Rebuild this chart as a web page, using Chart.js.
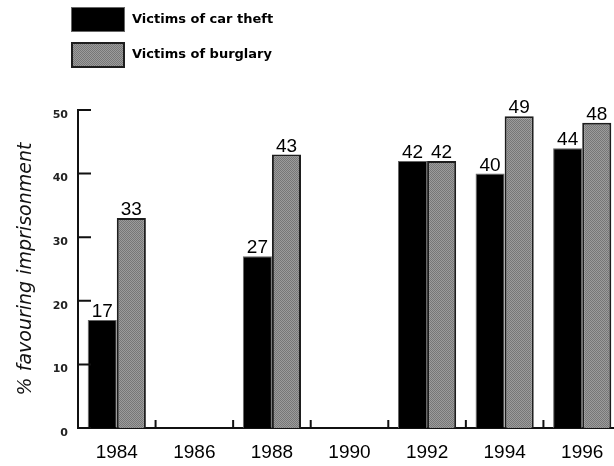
<!DOCTYPE html>
<html>
<head>
<meta charset="utf-8">
<script src="https://cdn.jsdelivr.net/npm/chart.js@4/dist/chart.umd.min.js"></script>
<style>
  html, body { margin: 0; padding: 0; background: #fff; overflow: hidden; }
  #wrap { position: relative; width: 621px; height: 466px; }
</style>
</head>
<body>
<div id="wrap"><canvas id="c"></canvas></div>
<script>
// Survey years and the share favouring imprisonment for each group of victims
const years = ['1984', '1986', '1988', '1990', '1992', '1994', '1996'];
const carTheft = [17, null, 27, null, 42, 40, 44];
const burglary = [33, null, 43, null, 42, 49, 48];
const seriesNames = ['Victims of car theft', 'Victims of burglary'];
const yTickValues = [0, 10, 20, 30, 40, 50];

// Dithered grey fill for the burglary bars
function ditherPattern() {
  const p = document.createElement('canvas');
  p.width = 2; p.height = 2;
  const g = p.getContext('2d');
  g.fillStyle = '#9c9c9c'; g.fillRect(0, 0, 2, 2);
  g.fillStyle = '#777777'; g.fillRect(0, 0, 1, 1); g.fillRect(1, 1, 1, 1);
  return g.createPattern(p, 'repeat');
}
const ctx = document.getElementById('c').getContext('2d');
const greyFill = ditherPattern();

// Short inward tick marks on both axes
const inwardTicks = {
  id: 'inwardTicks',
  afterDatasetsDraw(chart) {
    const { ctx, chartArea, scales: { x, y } } = chart;
    ctx.save();
    ctx.strokeStyle = '#111';
    ctx.lineWidth = 2;
    ctx.beginPath();
    yTickValues.forEach(v => {
      const py = y.getPixelForValue(v);
      ctx.moveTo(chartArea.left, py);
      ctx.lineTo(chartArea.left + 13, py);
    });
    for (let i = 0; i < years.length - 1; i++) {
      const px = (x.getPixelForValue(i) + x.getPixelForValue(i + 1)) / 2;
      ctx.moveTo(px, chartArea.bottom);
      ctx.lineTo(px, chartArea.bottom - 8);
    }
    ctx.stroke();
    ctx.restore();
  }
};

// Value written above every bar
const barValues = {
  id: 'barValues',
  afterDatasetsDraw(chart) {
    const { ctx } = chart;
    ctx.save();
    ctx.font = '19px "Liberation Sans", Arial, sans-serif';
    ctx.fillStyle = '#000';
    ctx.textAlign = 'center';
    ctx.textBaseline = 'alphabetic';
    chart.data.datasets.forEach((ds, di) => {
      chart.getDatasetMeta(di).data.forEach((bar, i) => {
        const v = ds.data[i];
        if (v === null || v === undefined) return;
        ctx.fillText(String(v), bar.x, bar.y - 3);
      });
    });
    ctx.restore();
  }
};

// Stacked legend in the top-left corner
const stackedLegend = {
  id: 'stackedLegend',
  afterDraw(chart) {
    const { ctx } = chart;
    const rows = [{ top: 7, h: 25 }, { top: 42, h: 26 }];
    ctx.save();
    chart.data.datasets.forEach((ds, i) => {
      const r = rows[i];
      ctx.fillStyle = ds.backgroundColor;
      ctx.fillRect(71, r.top, 54, r.h);
      ctx.strokeStyle = ds.borderColor;
      ctx.lineWidth = ds.borderWidth;
      ctx.strokeRect(71 + ds.borderWidth / 2, r.top + ds.borderWidth / 2, 54 - ds.borderWidth, r.h - ds.borderWidth);
      ctx.fillStyle = '#000';
      ctx.font = 'bold 13px "DejaVu Sans", sans-serif';
      ctx.textBaseline = 'middle';
      ctx.textAlign = 'left';
      ctx.fillText(ds.label, 132, r.top + r.h / 2);
    });
    ctx.restore();
  }
};

new Chart(ctx, {
  type: 'bar',
  data: {
    labels: years,
    datasets: [
      {
        label: seriesNames[0],
        data: carTheft,
        backgroundColor: '#000',
        borderColor: '#666',
        borderWidth: 1,
        barPercentage: 1.0,
        categoryPercentage: 0.75
      },
      {
        label: seriesNames[1],
        data: burglary,
        backgroundColor: greyFill,
        borderColor: '#1e1e1e',
        borderWidth: 2,
        barPercentage: 1.0,
        categoryPercentage: 0.75
      }
    ]
  },
  options: {
    responsive: true,
    maintainAspectRatio: false,
    animation: false,
    layout: { padding: { top: 110, left: 0, right: 0, bottom: 0 } },
    plugins: {
      legend: { display: false },
      tooltip: { enabled: false }
    },
    scales: {
      x: {
        grid: { display: false, drawTicks: false },
        border: { display: true, color: '#111', width: 2 },
        ticks: {
          color: '#000',
          padding: 13,
          maxRotation: 0,
          font: { family: '"Liberation Sans", Arial, sans-serif', size: 19 }
        },
        afterFit(scale) { scale.height = 38; }
      },
      y: {
        min: 0,
        max: 50,
        afterBuildTicks(scale) { scale.ticks = yTickValues.map(v => ({ value: v })); },
        grid: { display: false, drawTicks: false },
        border: { display: true, color: '#111', width: 2 },
        ticks: {
          color: '#222',
          padding: 10,
          labelOffset: 5,
          font: { family: '"DejaVu Sans", sans-serif', size: 11, weight: 'bold' }
        },
        title: {
          display: true,
          text: '% favouring imprisonment',
          color: '#111',
          padding: { top: 15, bottom: 0 },
          font: { family: '"DejaVu Sans", sans-serif', size: 19, style: 'italic' }
        },
        afterFit(scale) { scale.width = 78; }
      }
    }
  },
  plugins: [inwardTicks, barValues, stackedLegend]
});
</script>
</body>
</html>
